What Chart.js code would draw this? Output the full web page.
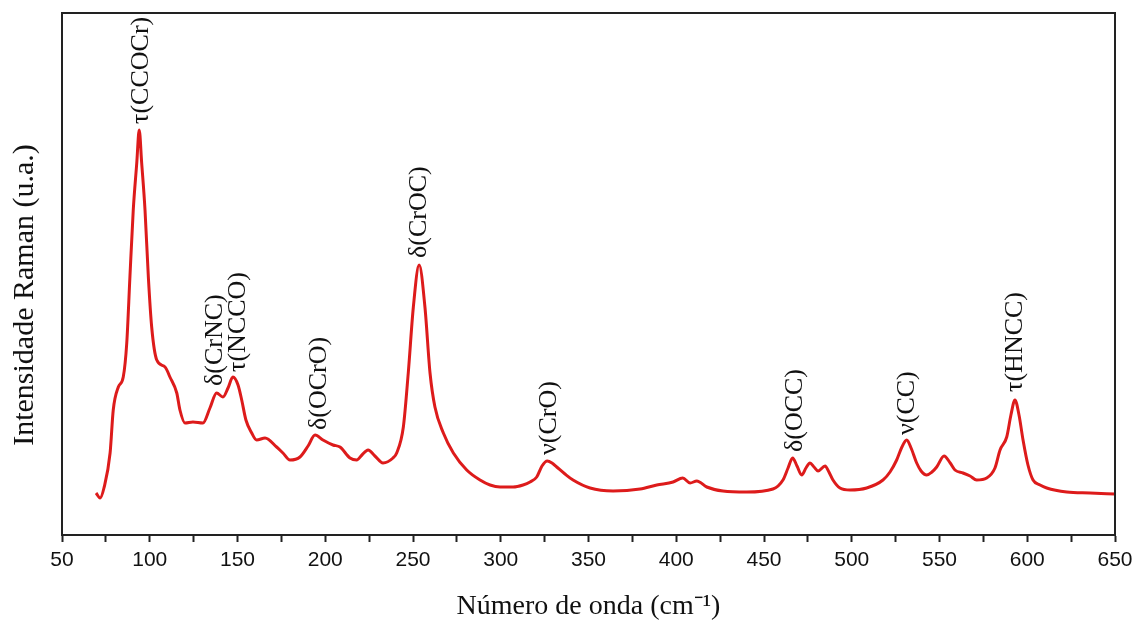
<!DOCTYPE html>
<html>
<head>
<meta charset="utf-8">
<script src="https://cdn.jsdelivr.net/npm/chart.js@4"></script>
<style>
  html, body { margin: 0; padding: 0; background: #fff; }
  #wrap { width: 1137px; height: 625px; }
</style>
</head>
<body>
<div id="wrap"><canvas id="ramanChart"></canvas></div>
<script>
// ===== Data =====
const waveNumbers = [69.4,71.7,73.9,77.4,79.2,82.1,84.9,86.9,88.7,90.6,92.6,94.0,95.4,97.3,99.2,101.1,104.0,108.7,111.5,115.4,117.2,120.1,124.6,130.3,134.3,138.1,141.7,144.6,147.4,150.3,152.4,154.8,158.1,160.9,165.7,172.3,175.9,179.9,185.6,190.2,194.2,198.7,204.4,208.4,214.1,217.9,220.9,224.4,228.3,232.9,238.6,240.7,244.5,247.3,250.2,253.5,256.8,259.7,262.5,267.3,273.0,280.6,288.2,293.9,299.6,307.0,312.7,316.7,320.5,323.5,326.5,329.2,331.9,336.6,341.2,350.9,364.0,379.4,388.9,398.2,403.7,407.9,411.7,417.4,426.6,440.1,455.1,460.8,463.7,466.3,468.8,471.5,473.9,476.2,478.5,480.8,484.8,487.0,489.3,493.3,499.0,508.5,517.8,521.8,525.6,528.6,531.3,533.8,537.0,539.5,542.7,545.7,548.4,552.6,556.1,558.8,563.4,567.4,571.2,576.9,581.6,584.5,588.3,590.7,593.0,595.3,597.6,600.4,603.3,607.3,611.1,622.5,635.8,650.0];
const intensities = [42,37,47,82,125,148,158,192,258,325,372,405,372,325,258,208,175,168,158,142,125,112,113,112,127,142,138,147,158,150,135,115,102,95,97,88,82,75,78,89,100,95,90,88,77,75,80,85,79,72,77,82,108,162,228,270,228,162,128,102,82,65,55,50,48,48,50,53,58,69,74,72,68,61,55,47,44,46,50,53,57,52,54,48,44,43,46,55,67,77,69,60,67,72,68,64,69,63,55,47,45,47,55,63,75,88,95,87,72,64,60,63,68,79,72,65,62,59,55,57,67,85,98,120,135,120,95,70,55,50,47,43,42,41];

const xTicks = [50,100,150,200,250,300,350,400,450,500,550,600,650];

// peak assignments: text, wavenumber and intensity where the text starts
const peakTexts = ['τ(CCOCr)','δ(CrNC)','τ(NCCO)','δ(OCrO)','δ(CrOC)','ν(CrO)','δ(OCC)','ν(CC)','τ(HNCC)'];
const peakWaves = [95.0,137.2,150.3,196.4,253.4,327.5,467.7,531.5,593.0];
const peakLevels = [411,149,163,105,277,80,83,100,143];

const yTitle = 'Intensidade Raman (u.a.)';

const points = waveNumbers.map((w, i) => ({ x: w, y: intensities[i] }));

// ===== Peak labels, y title, frame =====
const peakLabelPlugin = {
  id: 'peakLabels',
  afterDatasetsDraw(chart) {
    const { ctx, scales: { x, y } } = chart;
    ctx.save();
    ctx.fillStyle = '#111';
    ctx.font = '26px "Liberation Serif", "Times New Roman", serif';
    ctx.textAlign = 'left';
    ctx.textBaseline = 'middle';
    peakTexts.forEach((t, i) => {
      ctx.save();
      ctx.translate(x.getPixelForValue(peakWaves[i]), y.getPixelForValue(peakLevels[i]));
      ctx.rotate(-Math.PI / 2);
      ctx.fillText(t, 0, 0);
      ctx.restore();
    });
    ctx.restore();
  },
  afterDraw(chart) {
    const { ctx, chartArea: a } = chart;
    ctx.save();
    ctx.strokeStyle = '#222';
    ctx.lineWidth = 2;
    ctx.strokeRect(a.left, a.top, a.right - a.left, a.bottom - a.top);
    // y axis title, sits a little below the middle of the axis
    ctx.fillStyle = '#111';
    ctx.font = '30px "Liberation Serif", "Times New Roman", serif';
    ctx.textAlign = 'center';
    ctx.textBaseline = 'middle';
    ctx.translate(25, 295);
    ctx.rotate(-Math.PI / 2);
    ctx.fillText(yTitle, 0, 0);
    ctx.restore();
  }
};

new Chart(document.getElementById('ramanChart'), {
  type: 'line',
  data: {
    datasets: [{
      data: points,
      borderColor: '#dd1b1b',
      borderWidth: 3,
      pointRadius: 0,
      fill: false,
      cubicInterpolationMode: 'monotone'
    }]
  },
  options: {
    responsive: true,
    maintainAspectRatio: false,
    animation: false,
    layout: { padding: { top: 13, right: 22, left: 0, bottom: 0 } },
    plugins: { legend: { display: false }, tooltip: { enabled: false } },
    scales: {
      x: {
        type: 'linear',
        min: 50, max: 650,
        afterFit: s => { s.height = 90; s.paddingRight = 0; },
        afterBuildTicks: s => {
          const t = [];
          for (let v = 50; v <= 650; v += 25) t.push({ value: v });
          s.ticks = t;
        },
        ticks: {
          color: '#111',
          padding: 6,
          maxRotation: 0,
          autoSkip: false,
          font: { family: '"Liberation Sans", Arial, sans-serif', size: 21 },
          callback: v => xTicks.includes(v) ? String(v) : ''
        },
        grid: { drawOnChartArea: false, tickLength: 7, tickWidth: 2, color: '#222' },
        border: { color: '#222', width: 2 },
        title: {
          display: true,
          text: 'Número de onda (cm⁻¹)',
          color: '#111',
          font: { family: '"Liberation Serif", "Times New Roman", serif', size: 28 },
          padding: { top: 0, bottom: 2 }
        }
      },
      y: {
        min: 0, max: 522,
        afterFit: s => { s.width = 62; },
        ticks: { display: false },
        grid: { display: false },
        border: { color: '#222', width: 2 }
      }
    }
  },
  plugins: [peakLabelPlugin]
});
</script>
</body>
</html>
